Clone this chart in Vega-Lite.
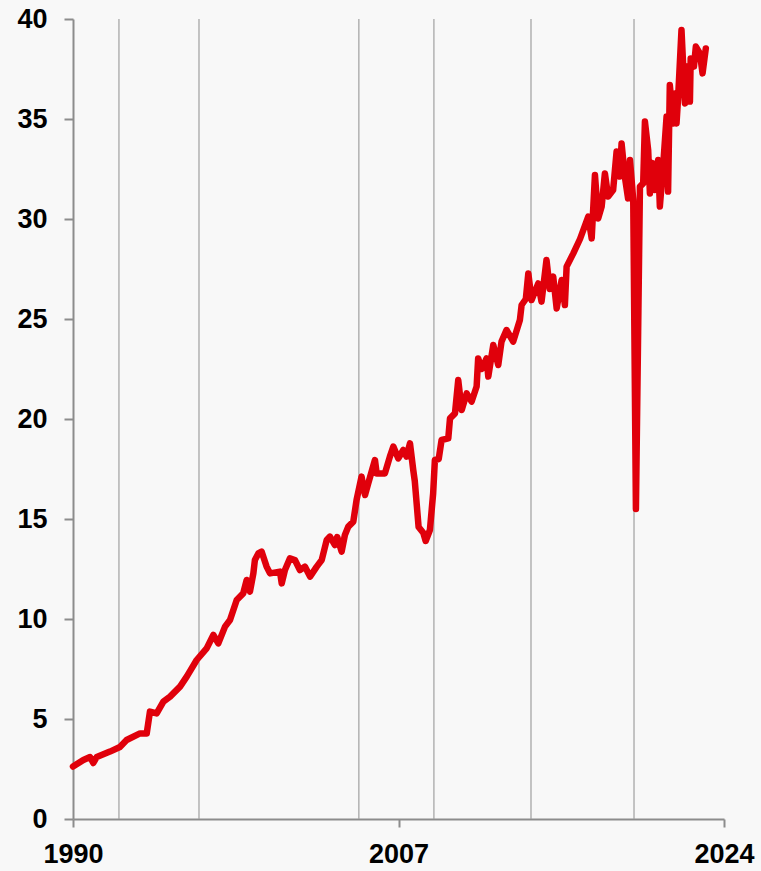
{
  "$schema": "https://vega.github.io/schema/vega-lite/v6.json",
  "width": 651,
  "height": 800,
  "autosize": {"type": "none"},
  "padding": {"left": 73, "top": 19, "right": 37, "bottom": 52},
  "background": "#f8f8f8",
  "config": {"view": {"stroke": null}},
  "datasets": {
    "series": [
      {"year": 1990.00, "value": 2.62}, {"year": 1990.54, "value": 2.95}, {"year": 1990.89, "value": 3.10},
      {"year": 1991.06, "value": 2.80}, {"year": 1991.24, "value": 3.10}, {"year": 1991.93, "value": 3.37},
      {"year": 1992.45, "value": 3.60}, {"year": 1992.80, "value": 3.95}, {"year": 1993.50, "value": 4.28},
      {"year": 1993.85, "value": 4.28}, {"year": 1994.02, "value": 5.37}, {"year": 1994.37, "value": 5.28},
      {"year": 1994.72, "value": 5.87}, {"year": 1995.07, "value": 6.12}, {"year": 1995.59, "value": 6.62},
      {"year": 1995.94, "value": 7.12}, {"year": 1996.46, "value": 7.95}, {"year": 1996.98, "value": 8.53},
      {"year": 1997.33, "value": 9.20}, {"year": 1997.59, "value": 8.78}, {"year": 1997.94, "value": 9.62},
      {"year": 1998.20, "value": 9.95}, {"year": 1998.55, "value": 10.95}, {"year": 1998.89, "value": 11.28},
      {"year": 1999.07, "value": 11.95}, {"year": 1999.24, "value": 11.37}, {"year": 1999.42, "value": 12.28},
      {"year": 1999.50, "value": 12.95}, {"year": 1999.68, "value": 13.28}, {"year": 1999.85, "value": 13.37},
      {"year": 2000.11, "value": 12.62}, {"year": 2000.29, "value": 12.28}, {"year": 2000.81, "value": 12.37},
      {"year": 2000.90, "value": 11.78}, {"year": 2001.07, "value": 12.45}, {"year": 2001.33, "value": 13.03},
      {"year": 2001.59, "value": 12.95}, {"year": 2001.85, "value": 12.45}, {"year": 2002.11, "value": 12.62},
      {"year": 2002.38, "value": 12.12}, {"year": 2002.73, "value": 12.62}, {"year": 2002.99, "value": 12.95},
      {"year": 2003.25, "value": 13.95}, {"year": 2003.42, "value": 14.12}, {"year": 2003.68, "value": 13.70},
      {"year": 2003.80, "value": 14.10}, {"year": 2004.03, "value": 13.37}, {"year": 2004.20, "value": 14.20},
      {"year": 2004.38, "value": 14.62}, {"year": 2004.64, "value": 14.87}, {"year": 2004.81, "value": 15.95},
      {"year": 2005.07, "value": 17.12}, {"year": 2005.25, "value": 16.20}, {"year": 2005.42, "value": 16.78},
      {"year": 2005.77, "value": 17.95}, {"year": 2005.86, "value": 17.28}, {"year": 2006.29, "value": 17.28},
      {"year": 2006.55, "value": 18.12}, {"year": 2006.73, "value": 18.62}, {"year": 2006.99, "value": 18.03},
      {"year": 2007.25, "value": 18.45}, {"year": 2007.42, "value": 18.12}, {"year": 2007.60, "value": 18.78},
      {"year": 2007.77, "value": 17.45}, {"year": 2007.85, "value": 16.90}, {"year": 2008.05, "value": 14.60},
      {"year": 2008.30, "value": 14.30}, {"year": 2008.42, "value": 13.90}, {"year": 2008.64, "value": 14.45},
      {"year": 2008.81, "value": 16.28}, {"year": 2008.90, "value": 17.95}, {"year": 2009.10, "value": 18.00},
      {"year": 2009.25, "value": 18.95}, {"year": 2009.60, "value": 19.03}, {"year": 2009.69, "value": 20.03},
      {"year": 2009.95, "value": 20.28}, {"year": 2010.12, "value": 21.95}, {"year": 2010.30, "value": 20.45},
      {"year": 2010.56, "value": 21.28}, {"year": 2010.82, "value": 20.87}, {"year": 2011.08, "value": 21.62},
      {"year": 2011.16, "value": 23.03}, {"year": 2011.35, "value": 22.50}, {"year": 2011.60, "value": 23.03},
      {"year": 2011.69, "value": 22.12}, {"year": 2011.95, "value": 23.70}, {"year": 2012.21, "value": 22.70},
      {"year": 2012.38, "value": 23.87}, {"year": 2012.64, "value": 24.45}, {"year": 2012.99, "value": 23.87},
      {"year": 2013.34, "value": 24.95}, {"year": 2013.43, "value": 25.70}, {"year": 2013.65, "value": 26.00},
      {"year": 2013.78, "value": 27.28}, {"year": 2013.95, "value": 25.95}, {"year": 2014.30, "value": 26.78},
      {"year": 2014.47, "value": 25.87}, {"year": 2014.73, "value": 27.95}, {"year": 2014.90, "value": 26.50},
      {"year": 2015.08, "value": 27.12}, {"year": 2015.26, "value": 25.53}, {"year": 2015.52, "value": 26.95},
      {"year": 2015.69, "value": 25.70}, {"year": 2015.78, "value": 27.62}, {"year": 2016.13, "value": 28.28},
      {"year": 2016.48, "value": 29.00}, {"year": 2016.91, "value": 30.12}, {"year": 2017.09, "value": 29.03},
      {"year": 2017.26, "value": 32.20}, {"year": 2017.43, "value": 30.03}, {"year": 2017.61, "value": 30.62},
      {"year": 2017.78, "value": 32.28}, {"year": 2017.95, "value": 31.12}, {"year": 2018.21, "value": 31.45},
      {"year": 2018.39, "value": 33.37}, {"year": 2018.56, "value": 32.12}, {"year": 2018.65, "value": 33.78},
      {"year": 2018.82, "value": 32.12}, {"year": 2018.99, "value": 31.03}, {"year": 2019.09, "value": 32.95},
      {"year": 2019.26, "value": 30.95}, {"year": 2019.40, "value": 15.50}, {"year": 2019.61, "value": 31.62},
      {"year": 2019.78, "value": 31.78}, {"year": 2019.87, "value": 34.87}, {"year": 2020.04, "value": 33.45},
      {"year": 2020.13, "value": 31.28}, {"year": 2020.25, "value": 32.80}, {"year": 2020.39, "value": 31.45},
      {"year": 2020.56, "value": 32.95}, {"year": 2020.65, "value": 30.62}, {"year": 2020.82, "value": 32.62},
      {"year": 2021.00, "value": 35.12}, {"year": 2021.08, "value": 31.37}, {"year": 2021.17, "value": 36.70},
      {"year": 2021.35, "value": 34.78}, {"year": 2021.44, "value": 36.28}, {"year": 2021.52, "value": 34.78},
      {"year": 2021.60, "value": 36.00}, {"year": 2021.78, "value": 39.45}, {"year": 2021.96, "value": 35.78},
      {"year": 2022.05, "value": 37.62}, {"year": 2022.22, "value": 35.87}, {"year": 2022.26, "value": 38.03},
      {"year": 2022.43, "value": 37.62}, {"year": 2022.53, "value": 38.62}, {"year": 2022.74, "value": 38.28},
      {"year": 2022.88, "value": 37.28}, {"year": 2023.05, "value": 38.53}
    ],
    "markers": [
      {"year": 1992.40}, {"year": 1996.58}, {"year": 2004.93},
      {"year": 2008.85}, {"year": 2013.92}, {"year": 2019.30}
    ]
  },
  "layer": [
    {
      "data": {"name": "markers"},
      "mark": {"type": "rule", "color": "#a0a0a0", "strokeWidth": 1.2},
      "encoding": {
        "x": {"field": "year", "type": "quantitative", "scale": {"domain": [1990, 2024]}}
      }
    },
    {
      "data": {"name": "series"},
      "mark": {"type": "line", "color": "#e0000b", "strokeWidth": 6.5, "strokeJoin": "round", "strokeCap": "round"},
      "encoding": {
        "x": {
          "field": "year", "type": "quantitative",
          "scale": {"domain": [1990, 2024], "nice": false, "zero": false},
          "axis": {
            "title": null, "grid": false, "values": [1990, 2007, 2024], "format": "d",
            "labelFont": "Liberation Sans", "labelFontSize": 27, "labelFontWeight": "bold",
            "labelColor": "#000000", "labelFlush": false, "labelPadding": 14,
            "domainColor": "#8c8c8c", "domainWidth": 2, "tickColor": "#8c8c8c", "tickWidth": 2, "tickSize": 8
          }
        },
        "y": {
          "field": "value", "type": "quantitative",
          "scale": {"domain": [0, 40], "nice": false},
          "axis": {
            "title": null, "grid": false, "values": [0, 5, 10, 15, 20, 25, 30, 35, 40],
            "labelFont": "Liberation Sans", "labelFontSize": 27, "labelFontWeight": "bold",
            "labelColor": "#000000", "labelFlush": false, "labelPadding": 17,
            "domainColor": "#8c8c8c", "domainWidth": 2, "tickColor": "#8c8c8c", "tickWidth": 2, "tickSize": 9
          }
        }
      }
    }
  ]
}
